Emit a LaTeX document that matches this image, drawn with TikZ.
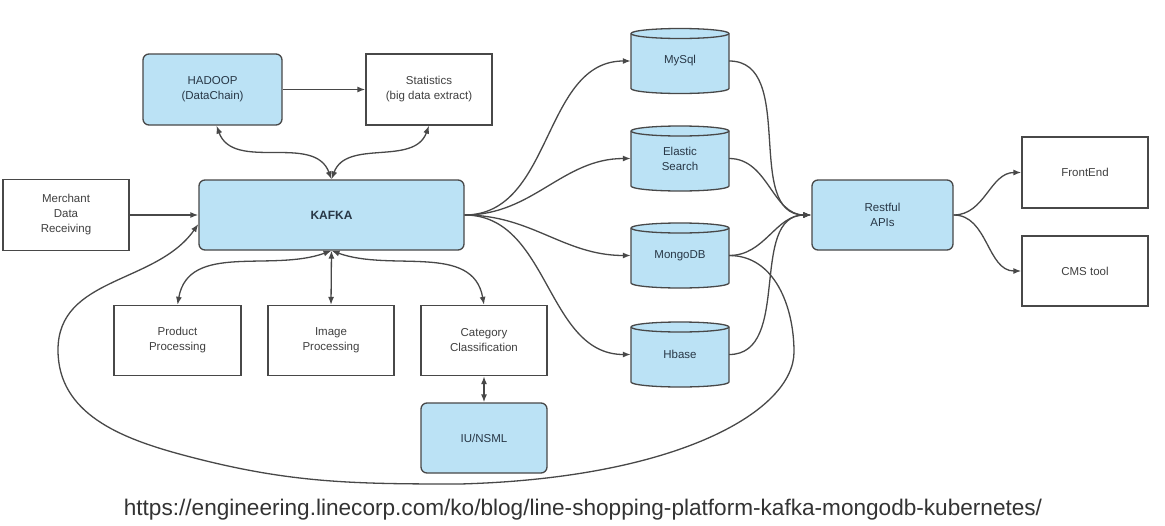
\documentclass[tikz,border=0pt]{standalone}
\usepackage{fontspec}
\setmainfont{Liberation Sans}
\usetikzlibrary{arrows.meta,calc}
\definecolor{boxblue}{RGB}{187,226,245}
\definecolor{edgec}{RGB}{72,72,72}
\definecolor{txt}{RGB}{64,64,64}
\definecolor{btxt}{RGB}{40,55,70}
\newcommand\dbnode[3]{%
  \coordinate (#1c) at #2;
  \filldraw[dbshape] ([shift={(-49pt,27.5pt)}]#1c) -- ([shift={(-49pt,-27.5pt)}]#1c)
    arc[start angle=180,end angle=360,x radius=49pt,y radius=5pt]
    -- ([shift={(49pt,27.5pt)}]#1c)
    arc[start angle=0,end angle=180,x radius=49pt,y radius=5pt] -- cycle;
  \draw[dbshape,fill=none] ([shift={(-49pt,27.5pt)}]#1c)
    arc[start angle=180,end angle=360,x radius=49pt,y radius=5pt];
  \node[dbtext] (#1) at #2 {#3};
}
\begin{document}
\begin{tikzpicture}[x=1pt,y=-1pt,
  base/.style={draw=edgec, line width=1.3pt, align=center,
    font=\fontsize{11.5}{15}\selectfont, inner sep=0pt},
  wbox/.style={base, fill=white, text=txt},
  bbox/.style={base, fill=boxblue, rounded corners=6pt, text=btxt},
  dbshape/.style={draw=edgec, line width=1.3pt, fill=boxblue},
  dbtext/.style={align=center, font=\fontsize{11.5}{15}\selectfont, text=btxt,
    minimum width=98pt, minimum height=65pt, inner sep=0pt},
  conn/.style={draw=edgec, line width=1.3pt, -{Latex[length=8pt,width=6pt]}},
  both/.style={draw=edgec, line width=1.3pt, {Latex[length=8pt,width=6pt]}-{Latex[length=8pt,width=6pt]}},
]
\useasboundingbox (0,0) rectangle (1165,525);
\fill[white] (0,0) rectangle (1165,525);

% boxes
\node[bbox, minimum width=139pt, minimum height=71pt] (hadoop) at (212.5,89.5) {HADOOP\\(DataChain)};
\node[wbox, minimum width=126pt, minimum height=71pt] (stats) at (429,89.5) {Statistics\\(big data extract)};
\node[bbox, minimum width=265pt, minimum height=70pt, font=\fontsize{12}{15}\selectfont\bfseries] (kafka) at (331.5,215) {KAFKA};
\node[wbox, minimum width=126pt, minimum height=71pt] (merchant) at (66,215) {Merchant\\Data\\Receiving};
\node[bbox, minimum width=141pt, minimum height=70pt] (restful) at (882.5,215) {Restful\\APIs};
\node[wbox, minimum width=126pt, minimum height=71pt] (frontend) at (1085,172.5) {FrontEnd};
\node[wbox, minimum width=126pt, minimum height=70pt] (cms) at (1085,271) {CMS tool};
\node[wbox, minimum width=127pt, minimum height=70pt] (product) at (177.5,340.5) {Product\\Processing};
\node[wbox, minimum width=126pt, minimum height=70pt] (image) at (331,340.5) {Image\\Processing};
\node[wbox, minimum width=126pt, minimum height=70pt] (category) at (484,340.5) {Category\\Classification};
\node[bbox, minimum width=126pt, minimum height=70pt] (iunsml) at (484,438) {IU/NSML};

% databases
\dbnode{mysql}{(680,61)}{MySql}
\dbnode{elastic}{(680,158.5)}{Elastic\\Search}
\dbnode{mongo}{(680,255.5)}{MongoDB}
\dbnode{hbase}{(680,354.5)}{Hbase}

% connectors
\draw[conn] (merchant.east) -- (kafka.west);
\draw[conn] (hadoop.east) -- (stats.west);
\draw[both] (kafka.north) to[out=110,in=-70] ([xshift=4pt]hadoop.south);
\draw[both] (kafka.north) to[out=70,in=-110] (stats.south);

\draw[conn] (kafka.east) to[out=0,in=180] (mysql.west);
\draw[conn] (kafka.east) to[out=0,in=180] (elastic.west);
\draw[conn] (kafka.east) to[out=0,in=180] (mongo.west);
\draw[conn] (kafka.east) to[out=0,in=180] (hbase.west);

\draw[conn] (mysql.east) to[out=0,in=180] (restful.west);
\draw[conn] (elastic.east) to[out=0,in=180] (restful.west);
\draw[conn] (mongo.east) to[out=0,in=180] (restful.west);
\draw[conn] (hbase.east) to[out=0,in=180] (restful.west);

\draw[conn] (restful.east) to[out=0,in=180] (frontend.west);
\draw[conn] (restful.east) to[out=0,in=180] (cms.west);

\draw[both] (kafka.south) to[out=200,in=80] (product.north);
\draw[both] (kafka.south) -- (image.north);
\draw[both] (kafka.south) to[out=-20,in=100] (category.north);
\draw[both] (category.south) -- (iunsml.north);

\draw[conn] (mongo.east) to[out=0,in=90] (794,352)
  .. controls (794,410) and (680,478) .. (460,484)
  to[out=180,in=-15] (183,455)
  to[out=165,in=-90] (58,350) to[out=90,in=235] ([yshift=-9pt]kafka.west);

% source
\node[font=\fontsize{22.6}{26}\selectfont, text=black!80] (url) at (583,510)
  {https://engineering.linecorp.com/ko/blog/line-shopping-platform-kafka-mongodb-kubernetes/};
\end{tikzpicture}
\end{document}
